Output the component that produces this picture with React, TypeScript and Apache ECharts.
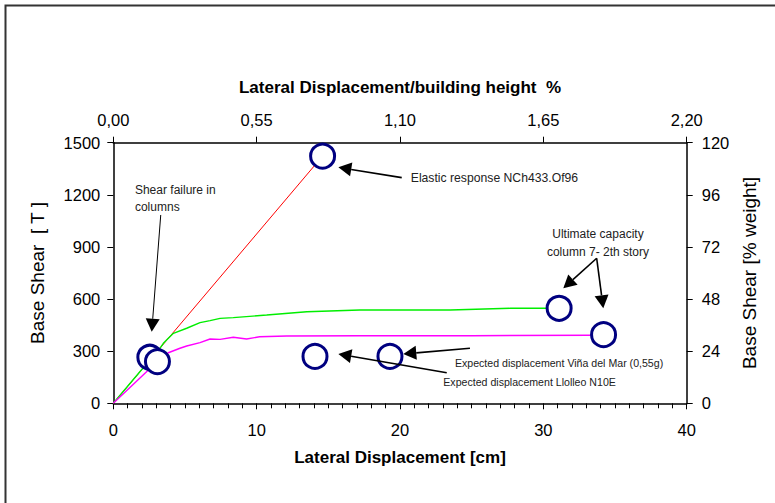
import React, { useEffect, useRef } from 'react';
import * as echarts from 'echarts';

const FONT = '"Liberation Sans", Arial, Helvetica, sans-serif';

// Lateral displacement [cm] vs base shear [T]
const elasticResponse: [number, number][] = [
  [0, 0],
  [14.6, 1423],
];

const pushoverUpper: [number, number][] = [
  [0, 0], [2.5, 245], [3.0, 295], [3.3, 322], [3.49, 345], [4.19, 403], [5.12, 432],
  [6.05, 464], [6.75, 476], [7.45, 489], [8.37, 493], [10.7, 508], [13.5, 527],
  [17.2, 537], [23.5, 537], [27.7, 547], [30.5, 547],
];

const pushoverLower: [number, number][] = [
  [0, 0], [2.21, 173], [3.0, 235], [3.84, 291], [4.65, 317], [5.12, 330], [6.05, 349],
  [6.75, 370], [7.45, 368], [8.37, 380], [9.3, 370], [10.2, 383], [12.1, 387],
  [17.2, 389], [25.0, 389], [33.3, 392],
];

const markedPoints: [number, number][] = [
  [14.6, 1423], [2.55, 265], [3.08, 240], [14.07, 270], [19.3, 270], [31.1, 547], [34.2, 395],
];

const bottomAxisName = 'Lateral Displacement [cm]';
const topAxisName = 'Lateral Displacement/building height  %';
const leftAxisName = 'Base Shear  [ T ]';
const rightAxisName = 'Base Shear [% weight]';

// annotation arrows in data coordinates (from -> tip)
const arrows: { from: [number, number]; to: [number, number]; w: number }[] = [
  { from: [3.31, 1084], to: [2.68, 412], w: 1 },
  { from: [20.12, 1299], to: [15.7, 1358], w: 1.6 },
  { from: [33.72, 835], to: [31.39, 662], w: 1.6 },
  { from: [33.72, 835], to: [34.18, 547], w: 1.6 },
  { from: [24.88, 317], to: [20.23, 284], w: 1.6 },
  { from: [23.26, 176], to: [15.7, 284], w: 1.6 },
];

const notes: { text: string; at: [number, number]; align: 'left' | 'center'; size: number; lh: number }[] = [
  { text: 'Shear failure in\ncolumns', at: [1.51, 1180], align: 'left', size: 12, lh: 17 },
  { text: 'Elastic response NCh433.Of96', at: [20.75, 1295], align: 'left', size: 12.2, lh: 15 },
  { text: 'Ultimate capacity\ncolumn 7- 2th story', at: [33.81, 922], align: 'center', size: 12, lh: 18 },
  { text: 'Expected displacement Viña del Mar (0,55g)', at: [23.83, 230], align: 'left', size: 10.6, lh: 13 },
  { text: 'Expected displacement Llolleo N10E', at: [23.02, 121], align: 'left', size: 10.6, lh: 13 },
];

export default function App() {
  const ref = useRef<HTMLDivElement>(null);
  useEffect(() => {
    if (!ref.current) return;
    const chart = echarts.init(ref.current, undefined, { renderer: 'svg' });
    const axisLine = { show: true, onZero: false, lineStyle: { color: '#000', width: 1.5 } };
    const tick = { show: true, inside: false, length: 6, lineStyle: { color: '#000', width: 1 } };
    const lbl = { color: '#000', fontSize: 16.5, fontFamily: FONT };
    const plain = (v: number) => String(v);
    chart.setOption({
      animation: false,
      backgroundColor: '#fff',
      grid: { left: 113.3, right: 88.3, top: 142.7, bottom: 99.7, containLabel: false, outerBoundsMode: 'none' },
      xAxis: [
        {
          type: 'value', position: 'bottom', min: 0, max: 40, interval: 10,
          axisLine, axisTick: tick,
          minorTick: { show: true, splitNumber: 10, length: 5, lineStyle: { color: '#000', width: 1 } },
          splitLine: { show: false },
          axisLabel: { ...lbl, margin: 18, formatter: plain },
          name: bottomAxisName, nameLocation: 'middle', nameGap: 46,
          nameTextStyle: { color: '#000', fontSize: 17, fontWeight: 'bold', fontFamily: FONT },
        },
        {
          type: 'value', position: 'top', min: 0, max: 2.2, interval: 0.55,
          axisLine, axisTick: tick, splitLine: { show: false },
          axisLabel: { ...lbl, margin: 14, formatter: (v: number) => v.toFixed(2).replace('.', ',') },
          name: topAxisName, nameLocation: 'middle', nameGap: 47,
          nameTextStyle: { color: '#000', fontSize: 17, fontWeight: 'bold', fontFamily: FONT },
        },
      ],
      yAxis: [
        {
          type: 'value', position: 'left', min: 0, max: 1500, interval: 300,
          axisLine, axisTick: tick, splitLine: { show: false },
          axisLabel: { ...lbl, margin: 13, formatter: plain },
          name: leftAxisName, nameLocation: 'middle', nameRotate: 90, nameGap: 66,
          nameTextStyle: { color: '#000', fontSize: 19, fontFamily: FONT },
        },
        {
          type: 'value', position: 'right', min: 0, max: 120, interval: 24,
          axisLine, axisTick: tick, splitLine: { show: false },
          axisLabel: { ...lbl, margin: 15, formatter: plain },
          name: rightAxisName, nameLocation: 'middle', nameRotate: 90, nameGap: 52,
          nameTextStyle: { color: '#000', fontSize: 19, fontFamily: FONT },
        },
      ],
      series: [
        {
          type: 'line', name: 'Elastic', xAxisIndex: 0, yAxisIndex: 0, data: elasticResponse,
          symbol: 'none', lineStyle: { color: '#ff0000', width: 1 }, z: 2,
        },
        {
          type: 'line', name: 'Upper', xAxisIndex: 0, yAxisIndex: 0, data: pushoverUpper,
          symbol: 'none', lineStyle: { color: '#00ee00', width: 1.4 }, z: 3,
        },
        {
          type: 'line', name: 'Lower', xAxisIndex: 0, yAxisIndex: 0, data: pushoverLower,
          symbol: 'none', lineStyle: { color: '#ff00ff', width: 1.4 }, z: 3,
        },
        {
          type: 'scatter', name: 'Points', xAxisIndex: 0, yAxisIndex: 0, data: markedPoints,
          symbol: 'circle', symbolSize: 24,
          itemStyle: { color: '#fff', borderColor: '#000080', borderWidth: 3, opacity: 1 }, z: 5,
        },
      ],
    });

    const px = (p: [number, number]) =>
      chart.convertToPixel({ xAxisIndex: 0, yAxisIndex: 0 }, p) as number[];

    const graphics: any[] = [
      {
        type: 'rect', shape: { x: 5.5, y: 5.5, width: 900, height: 700 },
        style: { fill: 'none', stroke: '#333', lineWidth: 2 }, silent: true, z: 1,
      },
    ];
    arrows.forEach((a) => {
      const f = px(a.from);
      const t = px(a.to);
      const dx = t[0] - f[0];
      const dy = t[1] - f[1];
      const len = Math.hypot(dx, dy);
      const ux = dx / len;
      const uy = dy / len;
      const L = 13;
      const W = 7;
      const bx = t[0] - ux * L;
      const by = t[1] - uy * L;
      graphics.push({
        type: 'line', shape: { x1: f[0], y1: f[1], x2: bx, y2: by },
        style: { stroke: '#000', lineWidth: a.w }, z: 100,
      });
      graphics.push({
        type: 'polygon',
        shape: { points: [[t[0], t[1]], [bx - uy * W, by + ux * W], [bx + uy * W, by - ux * W]] },
        style: { fill: '#000' }, z: 100,
      });
    });
    notes.forEach((n) => {
      const p = px(n.at);
      graphics.push({
        type: 'text', x: p[0], y: p[1], z: 100,
        style: {
          text: n.text, fill: '#222', fontSize: n.size, fontFamily: FONT,
          align: n.align, verticalAlign: 'middle', lineHeight: n.lh,
        },
      });
    });
    chart.setOption({ graphic: graphics });

    return () => chart.dispose();
  }, []);
  return (
    <div
      ref={ref}
      style={{ position: 'absolute', left: 0, top: 0, width: 775, height: 503, background: '#fff' }}
    />
  );
}
